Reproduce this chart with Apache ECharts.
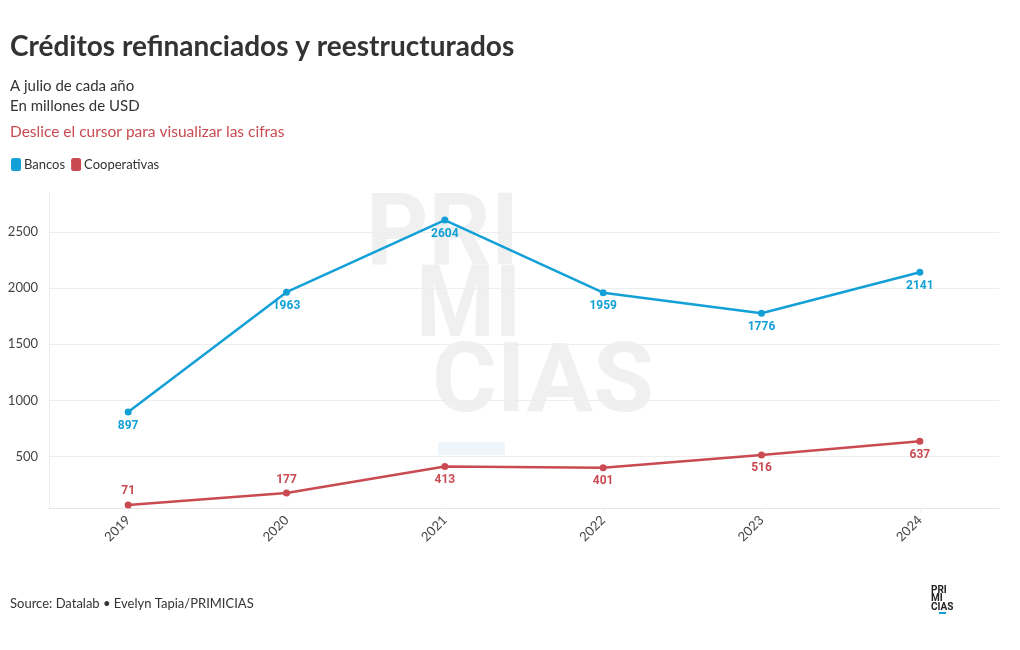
<!DOCTYPE html>
<html><head><meta charset="utf-8">
<script src="https://cdn.jsdelivr.net/npm/echarts@6/dist/echarts.min.js"></script>
<style>html,body{margin:0;padding:0;background:#fff}#c{width:1020px;height:650px}</style>
</head><body><div id="c"></div>
<script>
const years = ['2019','2020','2021','2022','2023','2024'];
const bancos = [897, 1963, 2604, 1959, 1776, 2141];
const cooperativas = [71, 177, 413, 401, 516, 637];
const coopLabelPos = ['top','top','bottom','bottom','bottom','bottom'];

const BLUE = '#12a0d7', RED = '#c94a50';
const FONT = 'Lato';
const WM = '#f0f0f0';
const chart = echarts.init(document.getElementById('c'));
chart.setOption({
  animation: false,
  textStyle: {fontFamily: FONT},
  title: [
    {text: 'Créditos refinanciados y reestructurados', left: 5, top: 28,
     textStyle: {fontSize: 28, fontWeight: 'bold', color: '#333', fontFamily: FONT}},
    {text: 'A julio de cada año\nEn millones de USD', left: 5, top: 71,
     textStyle: {fontSize: 15, fontWeight: 'normal', color: '#333', lineHeight: 20, fontFamily: FONT}},
    {text: 'Deslice el cursor para visualizar las cifras', left: 5, top: 119,
     textStyle: {fontSize: 15.5, fontWeight: 'normal', color: '#c94a50', fontFamily: FONT}},
    {text: 'Source: Datalab • Evelyn Tapia/PRIMICIAS', left: 5, top: 592,
     textStyle: {fontSize: 13, fontWeight: 'normal', color: '#333', fontFamily: FONT}}
  ],
  legend: {left: 6, top: 153, icon: 'roundRect', itemWidth: 10, itemHeight: 13, itemGap: 6,
    textStyle: {fontSize: 13, color: '#333', padding: [0,0,0,-2]},
    data: ['Bancos','Cooperativas']},
  graphic: [
    {type: 'text', z: -10, x: 519, y: 239, scaleX: 0.97,
     style: {text: 'PRI', font: 'bold 100px Roboto', fill: WM, align: 'right', verticalAlign: 'middle'}},
    {type: 'text', z: -10, x: 521, y: 311, scaleX: 0.9,
     style: {text: 'MI', font: 'bold 100px Roboto', fill: WM, align: 'right', verticalAlign: 'middle'}},
    {type: 'text', z: -10, x: 432, y: 387, scaleX: 1.03,
     style: {text: 'CIAS', font: 'bold 96px Roboto', fill: WM, align: 'left', verticalAlign: 'middle'}},
    {type: 'rect', z: -10, shape: {x: 438, y: 442, width: 67, height: 13}, style: {fill: '#eef6fc'}},
    {type: 'text', left: 931, top: 585, style: {text: 'PRI\nMI\nCIAS', font: 'bold 10px Roboto', fill: '#222', lineHeight: 8.5, align: 'left'}},
    {type: 'rect', shape: {x: 939, y: 612, width: 7, height: 2}, style: {fill: '#12a0d7'}}
  ],
  grid: {left: 49, right: 21, top: 193, bottom: 142, containLabel: false},
  xAxis: {type: 'category', data: years, boundaryGap: true,
    axisLine: {lineStyle: {color: '#e6e6e6'}},
    axisTick: {show: true, alignWithLabel: true, length: 5, lineStyle: {color: '#f2f2f2'}},
    axisLabel: {rotate: 45, fontSize: 13, color: '#444', margin: 10}},
  yAxis: {type: 'value', min: 44, max: 2845, splitNumber: 5,
    axisLine: {show: true, lineStyle: {color: '#ececec'}},
    axisTick: {show: false},
    axisLabel: {fontSize: 13, color: '#444', showMinLabel: false, showMaxLabel: false, margin: 11,
      formatter: v => String(v)},
    splitLine: {show: true, showMinLine: false, showMaxLine: false, lineStyle: {color: '#eeeeee'}}},
  series: [
    {name: 'Bancos', type: 'line', data: bancos, color: BLUE, symbol: 'circle', symbolSize: 7,
     lineStyle: {width: 2.5, color: BLUE}, itemStyle: {color: BLUE},
     label: {show: true, position: 'bottom', distance: 4, color: BLUE, fontWeight: 'bold', fontSize: 12, fontFamily: 'Roboto'}},
    {name: 'Cooperativas', type: 'line', data: cooperativas.map((v,i)=>({value: v, label: {position: coopLabelPos[i]}})),
     color: RED, symbol: 'circle', symbolSize: 7,
     lineStyle: {width: 2.5, color: RED}, itemStyle: {color: RED},
     label: {show: true, distance: 4, color: RED, fontWeight: 'bold', fontSize: 12, fontFamily: 'Roboto'}}
  ]
});
</script></body></html>
